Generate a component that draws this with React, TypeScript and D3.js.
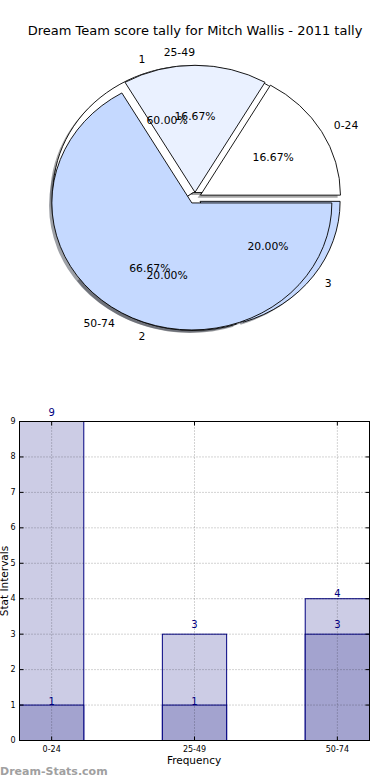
import React from "react";
import * as d3 from "d3";

// ---- Pie data ----
const pie1Labels = ["0-24", "25-49", "50-74"];
const pie1Values = [1, 1, 4];
const pie2Labels = ["1", "2", "3"];
const pie2Values = [3, 1, 1];
const pieColors = ["#ffffff", "#eaf1ff", "#c5d9ff"];

// ---- Bar data ----
const categories = ["0-24", "25-49", "50-74"];
const totalValues = [9, 3, 4];
const lowValues = [1, 1, 3];
const yTicks = [0, 1, 2, 3, 4, 5, 6, 7, 8, 9];

const FONT = "DejaVu Sans, Verdana, sans-serif";

type Slice = { label: string; color: string; arc: any; dx: number; dy: number; pct: number };

function buildSlices(values: number[], labels: string[]): Slice[] {
  const total = d3.sum(values);
  const pie = d3
    .pie<number>()
    .sort(null)
    .value((d) => d)
    .startAngle(Math.PI / 2)
    .endAngle(Math.PI / 2 - 2 * Math.PI);
  return pie(values).map((a, i) => {
    const mid = (a.startAngle + a.endAngle) / 2;
    return {
      label: labels[i],
      color: pieColors[i % pieColors.length],
      arc: a,
      dx: Math.sin(mid),
      dy: -Math.cos(mid),
      pct: (values[i] / total) * 100,
    };
  });
}

export default function App() {
  const W = 390,
    H = 780;
  // pie geometry
  const cx = 195,
    cy = 198,
    rx = 140,
    ry = 127;
  const explode = 0.045;
  const shadowOff = 0.02;
  const arcGen = d3.arc<any>().innerRadius(0).outerRadius(1);

  const s1 = buildSlices(pie1Values, pie1Labels);
  const s2 = buildSlices(pie2Values, pie2Labels);

  const shadowColor = (c: string) => {
    const col = d3.rgb(c);
    return d3.rgb(col.r * 0.3, col.g * 0.3, col.b * 0.3).toString();
  };

  const wedge = (s: Slice, key: string, shadow: boolean) => {
    const ox = explode * s.dx + (shadow ? -shadowOff : 0);
    const oy = explode * s.dy + (shadow ? shadowOff : 0);
    return (
      <g key={key} transform={`translate(${cx + ox * rx},${cy + oy * ry}) scale(${rx},${ry})`}>
        <path
          d={arcGen(s.arc) as string}
          fill={shadow ? shadowColor(s.color) : s.color}
          fillOpacity={shadow ? 0.5 : 1}
          stroke={shadow ? "none" : "#000"}
          strokeWidth={0.9}
          vectorEffect="non-scaling-stroke"
        />
      </g>
    );
  };

  const pieTexts = (slices: Slice[], key: string) =>
    slices.map((s, i) => {
      const bx = cx + explode * s.dx * rx;
      const by = cy + explode * s.dy * ry;
      const lx = bx + 1.1 * s.dx * rx;
      const ly = by + 1.1 * s.dy * ry;
      const px = bx + 0.6 * s.dx * rx;
      const py = by + 0.6 * s.dy * ry;
      return (
        <g key={key + i}>
          <text
            x={lx}
            y={ly}
            textAnchor={s.dx > 1e-9 ? "start" : "end"}
            dominantBaseline="central"
            fontSize={10.8}
            fontFamily={FONT}
          >
            {s.label}
          </text>
          <text x={px} y={py} textAnchor="middle" dominantBaseline="central" fontSize={10.8} fontFamily={FONT}>
            {s.pct.toFixed(2) + "%"}
          </text>
        </g>
      );
    });

  // bar chart geometry
  const left = 19.5,
    right = 369.5,
    top = 421.5,
    bottom = 740.5;
  const barW = 0.45;
  const x = d3
    .scaleLinear()
    .domain([-barW / 2, categories.length - 1 + barW / 2])
    .range([left, right]);
  const y = d3.scaleLinear().domain([0, 9]).range([bottom, top]);
  const lightGap = [6, 6, 1.5];
  const darkGap = [0, 0, 6];

  return (
    <svg
      width={W}
      height={H}
      viewBox={`0 0 ${W} ${H}`}
      style={{ position: "absolute", left: 0, top: 0, background: "#fff" }}
    >
      <rect x={0} y={0} width={W} height={H} fill="#fff" />
      <text x={195} y={34.5} textAnchor="middle" fontSize={13} fontFamily={FONT}>
        Dream Team score tally for Mitch Wallis - 2011 tally
      </text>

      {/* shadows */}
      {s2.map((s, i) => wedge(s, "sh2" + i, true))}
      {s1.map((s, i) => wedge(s, "sh1" + i, true))}
      {/* wedges */}
      {s2.map((s, i) => wedge(s, "w2" + i, false))}
      {s1.map((s, i) => wedge(s, "w1" + i, false))}
      {pieTexts(s1, "t1")}
      {pieTexts(s2, "t2")}

      {/* bars */}
      {categories.map((c, i) => (
        <rect
          key={"lb" + i}
          x={x(i - barW / 2)}
          y={y(totalValues[i])}
          width={x(barW) - x(0)}
          height={y(0) - y(totalValues[i])}
          fill="#ccccE5"
          stroke="#000080"
          strokeWidth={1}
        />
      ))}
      {categories.map((c, i) => (
        <rect
          key={"db" + i}
          x={x(i - barW / 2)}
          y={y(lowValues[i])}
          width={x(barW) - x(0)}
          height={y(0) - y(lowValues[i])}
          fill="#a3a3cf"
          stroke="#000080"
          strokeWidth={1}
        />
      ))}

      {/* grid */}
      {yTicks.map((t) => (
        <line
          key={"gy" + t}
          x1={left}
          x2={right}
          y1={y(t)}
          y2={y(t)}
          stroke="#000"
          strokeOpacity={0.35}
          strokeWidth={1}
          strokeDasharray="1 2"
        />
      ))}
      {categories.map((c, i) => (
        <line
          key={"gx" + i}
          x1={x(i)}
          x2={x(i)}
          y1={top}
          y2={bottom}
          stroke="#000"
          strokeOpacity={0.35}
          strokeWidth={1}
          strokeDasharray="1 2"
        />
      ))}

      {/* frame */}
      <rect x={left} y={top} width={right - left} height={bottom - top} fill="none" stroke="#000" strokeWidth={1} />

      {/* ticks */}
      {yTicks.map((t) => (
        <g key={"ty" + t}>
          <line x1={left} x2={left + 4} y1={y(t)} y2={y(t)} stroke="#000" />
          <line x1={right - 4} x2={right} y1={y(t)} y2={y(t)} stroke="#000" />
          <text x={15.5} y={y(t)} textAnchor="end" dominantBaseline="central" fontSize={8} fontFamily={FONT}>
            {t}
          </text>
        </g>
      ))}
      {categories.map((c, i) => (
        <g key={"tx" + i}>
          <line x1={x(i)} x2={x(i)} y1={bottom} y2={bottom - 4} stroke="#000" />
          <line x1={x(i)} x2={x(i)} y1={top} y2={top + 4} stroke="#000" />
          <text x={x(i)} y={751.5} textAnchor="middle" fontSize={8} fontFamily={FONT}>
            {c}
          </text>
        </g>
      ))}

      {/* value labels */}
      {categories.map((c, i) => (
        <g key={"vl" + i}>
          <text
            x={x(i)}
            y={y(totalValues[i]) - lightGap[i]}
            textAnchor="middle"
            fontSize={10}
            fontFamily={FONT}
            fill="#000080"
          >
            {totalValues[i]}
          </text>
          <text
            x={x(i)}
            y={y(lowValues[i]) - darkGap[i]}
            textAnchor="middle"
            fontSize={10}
            fontFamily={FONT}
            fill="#000080"
          >
            {lowValues[i]}
          </text>
        </g>
      ))}

      <text x={194} y={763.5} textAnchor="middle" fontSize={10.5} fontFamily={FONT}>
        Frequency
      </text>
      <text
        transform={`translate(7.5,581) rotate(-90)`}
        textAnchor="middle"
        fontSize={10.5}
        fontFamily={FONT}
      >
        Stat Intervals
      </text>
      <text x={0} y={775} fontSize={11} fontWeight="bold" fontFamily={FONT} fill="#a0a0a0">
        Dream-Stats.com
      </text>
    </svg>
  );
}
